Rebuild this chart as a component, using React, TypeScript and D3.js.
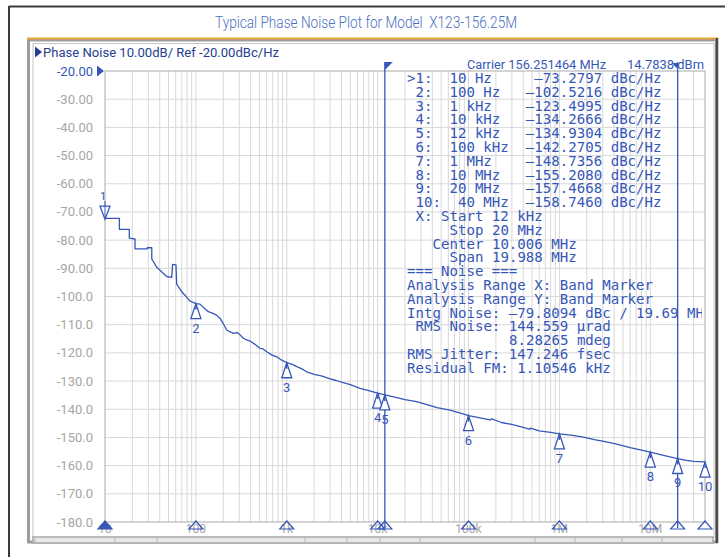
import * as d3 from "d3";

// trace (Hz, dBc/Hz)
const traceHz = [
  10, 14.4, 14.4, 18.5, 18.5, 21.4, 21.4, 29.2, 29.2, 32.7, 32.7, 37.1, 47.8, 54.2, 55.5, 60.4, 61.5,
  69.8, 78.7, 85, 100, 111, 124, 137, 152, 169, 184, 200, 218, 258, 285, 306, 335, 362, 395, 429,
  470, 508, 550, 601, 690, 775, 880, 1000, 1150, 1288, 1450, 1660, 2000, 2400, 3000, 3500, 4000,
  5000, 6400, 8000, 10000, 12000, 15000, 20000, 26900, 35000, 45000, 62500, 80000, 100000, 130000,
  172000, 180000, 230000, 300000, 400000, 474000, 480000, 600000, 800000, 1000000, 1400000, 1830000,
  2500000, 3000000, 4270000, 6000000, 8000000, 10000000, 14000000, 20000000, 25000000, 30000000,
  40000000,
];
const traceDbc = [
  -72.3, -72.3, -76.2, -76.2, -79.3, -79.6, -83.1, -83.1, -82.7, -82.7, -86.7, -89.6, -92.9, -93.2,
  -88.6, -88.8, -95.6, -98.3, -100.1, -101.5, -102.5, -102.7, -104.2, -105.4, -105.9, -106.6,
  -107.7, -109.6, -111.9, -113.1, -112.8, -113.6, -114.9, -115.4, -115.8, -116.6, -117.5, -118.4,
  -118.6, -119.6, -120.8, -121.4, -122.6, -123.5, -124.1, -124.9, -125.6, -126.7, -127.6, -128.2,
  -129.2, -129.8, -130.4, -131.3, -132.6, -133.4, -134.3, -134.9, -135.6, -136.6, -137.3, -138.4,
  -139.4, -140.3, -141.3, -142.3, -143.0, -143.8, -143.4, -144.7, -145.4, -146.4, -147.1, -146.7,
  -147.7, -148.2, -148.7, -149.3, -149.9, -150.9, -151.3, -152.4, -153.6, -154.5, -155.2, -156.4,
  -157.5, -158.1, -158.5, -158.7,
];

const markerHz = [10, 100, 1e3, 1e4, 1.2e4, 1e5, 1e6, 1e7, 2e7, 4e7];
const markerFreqText = ["10 Hz", "100 Hz", "1 kHz", "10 kHz", "12 kHz", "100 kHz", "1 MHz", "10 MHz", "20 MHz", "40 MHz"];
const markerDbc = [-73.2797, -102.5216, -123.4995, -134.2666, -134.9304, -142.2705, -148.7356, -155.208, -157.4668, -158.746];
const bandHz = [12e3, 20e6];

const dbTicks = d3.range(-20, -181, -10);
const freqTicks = [10, 100, 1e3, 1e4, 1e5, 1e6, 1e7];
const freqTickText = ["10", "100", "1k", "10k", "100k", "1M", "10M"];

const noiseLines = [
  { col: 1, text: "X: Start 12 kHz" },
  { col: 5, text: "Stop 20 MHz" },
  { col: 3, text: "Center 10.006 MHz" },
  { col: 5, text: "Span 19.988 MHz" },
  { col: 0, text: "=== Noise ===" },
  { col: 0, text: "Analysis Range X: Band Marker" },
  { col: 0, text: "Analysis Range Y: Band Marker" },
  { col: 0, text: "Intg Noise: \u201379.8094 dBc / 19.69 MHz" },
  { col: 1, text: "RMS Noise: 144.559 \u00b5rad" },
  { col: 12, text: "8.28265 mdeg" },
  { col: 0, text: "RMS Jitter: 147.246 fsec" },
  { col: 0, text: "Residual FM: 1.10546 kHz" },
];

const blue = "#3657b8";
const gray = "#a6a6a6";
const mono = "'DejaVu Sans Mono', monospace";
const sans = "Roboto, 'Noto Sans', sans-serif";

const x = d3.scaleLog().domain([10, 4e7]).range([105, 705]);
const y = d3.scaleLinear().domain([-20, -180]).range([71, 522]);

const gridHz: number[] = [];
for (let e = 1; e <= 7; e++) {
  for (let m = 1; m <= 9; m++) {
    const f = m * 10 ** e;
    if (f > 10 && f < 4e7) gridHz.push(f);
  }
}

const line = d3
  .line<number>()
  .x((_, i) => x(traceHz[i]))
  .y((d) => y(d));

const cw = 8.5;
const tx0 = 407;
const rowY = (i: number) => 83 + 13.8 * i;

function markerRow(i: number) {
  const label = i === 9 ? " 10:" : i === 0 ? ">1:" : ` ${i + 1}:`;
  const left = i === 9 ? " 10:  40 MHz" : label.padEnd(5) + markerFreqText[i];
  const val = markerDbc[i].toFixed(4).replace("-", "\u2013");
  return left.padEnd(23 - val.length) + val + " dBc/Hz";
}

const App = () => {
  const [x0, x1] = x.range();
  const [y0, y1] = y.range();
  return (
    <svg
      width={725}
      height={557}
      style={{ position: "absolute", left: 0, top: 0, display: "block", background: "#fff" }}
    >
      <defs>
        <clipPath id="screen">
          <rect x={33} y={43} width={682} height={494} />
        </clipPath>
        <clipPath id="table">
          <rect x={33} y={43} width={669} height={494} />
        </clipPath>
      </defs>

      {/* outer frame */}
      <line x1={9} x2={725} y1={6.5} y2={6.5} stroke="#3a3a3a" strokeWidth={2} />
      <line x1={9} x2={9} y1={6} y2={557} stroke="#3a3a3a" strokeWidth={2} />
      <text
        x={215}
        y={28}
        textLength={302}
        lengthAdjust="spacingAndGlyphs"
        fontFamily={sans}
        fontWeight={300}
        fontSize={16}
        fill="#4a70c2"
      >
        Typical Phase Noise Plot for Model&#160; X123-156.25M
      </text>

      {/* instrument screen */}
      <rect x={28.5} y={40} width={688} height={502} fill="#fff" stroke="#9c9c9c" strokeWidth={3} />
      <rect x={33} y={43.5} width={681} height={494} fill="#fff" stroke="#c4c4c4" strokeWidth={1} />
      <line x1={27} x2={718} y1={38.5} y2={38.5} stroke="#e3a43a" strokeWidth={2} />
      <line x1={717} x2={717} y1={38} y2={543} stroke="#4a4a4a" strokeWidth={2.5} />

      <path d="M35,46.5 L42,52 L35,57.5 Z" fill="#25408f" />
      <text x={43} y={57} textLength={236} lengthAdjust="spacingAndGlyphs" fontFamily={sans} fontSize={12.5} fill="#25408f">
        Phase Noise 10.00dB/ Ref -20.00dBc/Hz
      </text>

      {/* grid */}
      {gridHz.map((f) => (
        <line key={`v${f}`} x1={x(f)} x2={x(f)} y1={y0} y2={y1} stroke="#d8d8d8" />
      ))}
      {dbTicks.slice(1, -1).map((d) => (
        <line key={`h${d}`} x1={x0} x2={x1} y1={y(d)} y2={y(d)} stroke="#d8d8d8" />
      ))}
      <rect x={x0} y={y0} width={x1 - x0} height={y1 - y0} fill="none" stroke="#a9a9a9" />

      {/* y axis labels */}
      {dbTicks.map((d, i) => (
        <text
          key={`yl${d}`}
          x={93}
          y={y(d) + 4.5}
          textAnchor="end"
          fontFamily={sans}
          fontSize={13}
          fill={i === 0 ? blue : gray}
        >
          {d > -100 ? d.toFixed(2) : d.toFixed(1)}
        </text>
      ))}
      <path d={`M97,${y0 - 5.5} L104,${y0} L97,${y0 + 5.5} Z`} fill={blue} />

      {/* x axis labels */}
      {freqTicks.map((f, i) => (
        <text key={`xl${f}`} x={x(f)} y={533} textAnchor="middle" fontFamily={sans} fontSize={12} fill={gray}>
          {freqTickText[i]}
        </text>
      ))}

      {/* band marker lines */}
      {bandHz.map((f, i) => {
        const bx = x(f);
        const flag = i === 0 ? `M${bx},62 L${bx + 8},62 L${bx},70 Z` : `M${bx},63 L${bx - 6},63 L${bx},69 Z`;
        return (
          <g key={`b${f}`}>
            <line x1={bx} x2={bx} y1={62} y2={528} stroke={blue} strokeWidth={1.3} />
            <path d={flag} fill={blue} />
          </g>
        );
      })}

      {/* trace */}
      <path d={line(traceDbc) ?? ""} fill="none" stroke={blue} strokeWidth={1.3} strokeLinejoin="round" />

      {/* trace markers */}
      {markerHz.map((f, i) => {
        const mx = x(f);
        const my = y(markerDbc[i]);
        if (i === 0) {
          return (
            <g key={`m${f}`}>
              <path d={`M${mx},${my - 2} L${mx - 5},${my - 15} L${mx + 5},${my - 15} Z`} fill="#fff" stroke={blue} strokeWidth={1.3} />
              <line x1={mx} x2={mx} y1={my - 20} y2={my - 2} stroke={blue} strokeWidth={1} />
              <text x={mx - 2} y={my - 21} fontFamily={sans} fontSize={11} textAnchor="middle" fill={blue}>
                1
              </text>
            </g>
          );
        }
        return (
          <g key={`m${f}`}>
            <path d={`M${mx},${my} L${mx - 5},${my + 15} L${mx + 5},${my + 15} Z`} fill="#fff" stroke={blue} strokeWidth={1.3} />
            <line x1={mx} x2={mx} y1={my} y2={my + 6} stroke={blue} strokeWidth={1.5} />
            <text x={mx} y={my + 29} fontFamily={sans} fontSize={13} textAnchor="middle" fill={blue}>
              {i + 1}
            </text>
          </g>
        );
      })}

      {/* bottom marker triangles */}
      {markerHz.map((f, i) => {
        const mx = x(f);
        return (
          <path
            key={`bt${f}`}
            d={`M${mx},521 L${mx - 7},529 L${mx + 7},529 Z`}
            fill={i === 0 ? blue : "none"}
            stroke={blue}
            strokeWidth={1.2}
          />
        );
      })}

      {/* marker table */}
      <g clipPath="url(#screen)">
        <text x={467} y={69} textLength={139} lengthAdjust="spacingAndGlyphs" fontFamily={sans} fontSize={12.5} fill={blue}>
          Carrier 156.251464 MHz
        </text>
        <text x={627} y={69} textLength={77} lengthAdjust="spacingAndGlyphs" fontFamily={sans} fontSize={12.5} fill={blue}>
          14.7838 dBm
        </text>
      </g>
      <g clipPath="url(#table)">
        {markerHz.map((f, i) => (
          <text key={`r${f}`} x={tx0} y={rowY(i)} fontFamily={mono} fontSize={14.1} fill={blue} style={{ whiteSpace: "pre" }}>
            {markerRow(i)}
          </text>
        ))}
        {noiseLines.map((l, i) => (
          <text
            key={`n${i}`}
            x={tx0 + l.col * cw}
            y={rowY(10 + i)}
            fontFamily={mono}
            fontSize={14.1}
            fill={blue}
            style={{ whiteSpace: "pre" }}
          >
            {l.text}
          </text>
        ))}
      </g>

      {/* bottom soft key strip */}
      <rect x={33} y={537} width={680} height={6} fill="#e8e8e8" stroke="#a8a8a8" strokeWidth={1.5} />
      {[35, 115, 157, 305, 347, 380, 420, 535, 575, 622, 662].map((d) => (
        <line key={`sk${d}`} x1={d} x2={d} y1={538} y2={543} stroke="#b4b4b4" />
      ))}
    </svg>
  );
};

export default App;
